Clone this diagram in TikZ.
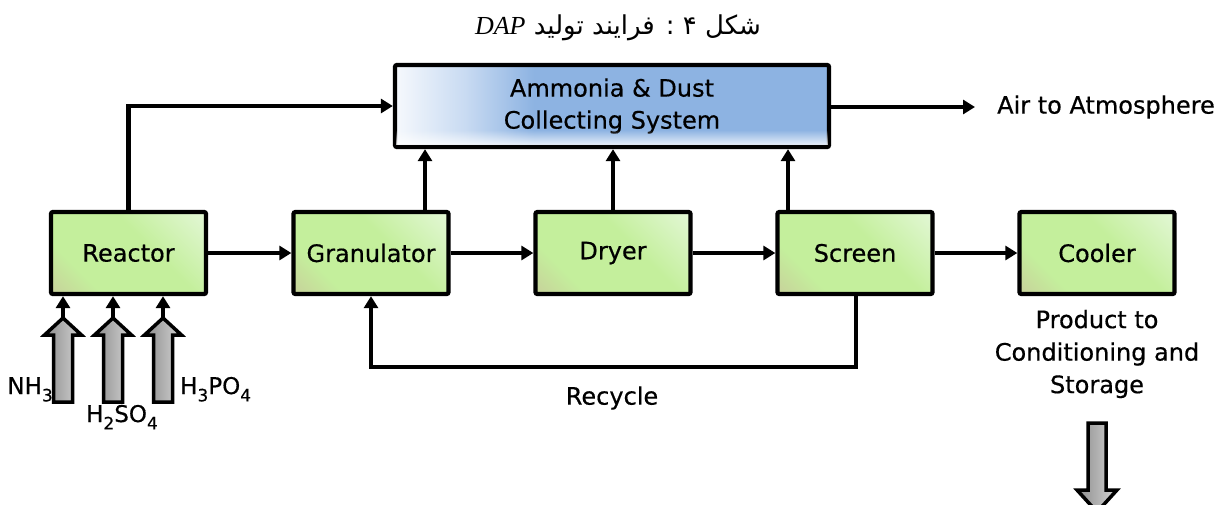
\documentclass[tikz,border=0pt]{standalone}
\usepackage{fontspec}
\setmainfont{DejaVu Sans}[BoldFont=DejaVu Sans, BoldFeatures={FakeBold=0.5}]
\newfontfamily\farsi[Script=Arabic]{DejaVu Sans}
\newfontfamily\dapfont{Liberation Serif}
\TeXXeTstate=1
\usetikzlibrary{arrows.meta,fadings}
\definecolor{gA}{HTML}{C8CC9A}
\definecolor{gM}{HTML}{C4EF9C}
\definecolor{gB}{HTML}{E6F8DC}
\definecolor{bW}{HTML}{F6F9FD}
\definecolor{bL}{HTML}{C9DBF2}
\definecolor{bB}{HTML}{8DB3E2}
\definecolor{arD}{HTML}{8C8C8C}
\definecolor{arL}{HTML}{D4D4D4}
\pgfdeclarehorizontalshading{gshade}{100bp}{color(0bp)=(gA); color(12bp)=(gA); color(30bp)=(gM); color(58bp)=(gM); color(88bp)=(gB); color(100bp)=(gB)}
\pgfdeclarehorizontalshading{bshade}{100bp}{color(0bp)=(bW); color(25bp)=(bW); color(33bp)=(bL); color(41bp)=(bB); color(100bp)=(bB)}
\newcommand\sbs[1]{\raisebox{-0.32em}{\fontsize{17}{17}\selectfont #1}}
\tikzset{
  unit/.style={draw=black, line width=4.3pt, rounded corners=2pt,
    minimum width=155pt, minimum height=82pt, inner sep=0pt,
    shading=gshade, shading angle=45,
    font=\fontsize{24}{28}\selectfont\bfseries},
  ammbox/.style={draw=black, line width=4.3pt, rounded corners=2pt,
    minimum width=434pt, minimum height=82pt, inner sep=0pt,
    shading=bshade, align=center,
    font=\fontsize{24}{32}\selectfont\bfseries},
  arr/.style={line width=4.2pt, -{Triangle[length=12pt,width=14pt]}},
  feed/.style={draw=black, line width=3.5pt, line join=miter,
    left color=arD, right color=arL},
  lbl/.style={inner sep=0pt, font=\fontsize{24}{32.5}\selectfont\bfseries, align=center},
  chem/.style={inner sep=0pt, font=\fontsize{23}{28}\selectfont\bfseries}
}
\begin{document}
\begin{tikzpicture}[x=1pt,y=-1pt]
\useasboundingbox (0,0) rectangle (1232,504);
\fill[white] (0,0) rectangle (1232,504);

% title
\node[inner sep=0pt] (title) at (618,28)
  {\farsi\fontsize{26}{30}\selectfont\beginR شکل ۴ : فرایند تولید \beginL{\dapfont\itshape DAP}\endL\endR};

% boxes
\node[ammbox] (amm) at (612,106) {Ammonia \& Dust\\Collecting System};
\fill[white, path fading=north, opacity=0.8] (396,130) rectangle (828,145);
\node[unit] (reac) at (128.5,253) {Reactor};
\node[unit] (gran) at (371,253) {Granulator};
\node[unit] (dry)  at (613,253) {Dryer};
\node[unit] (scr)  at (855,253) {Screen};
\node[unit] (cool) at (1097,253) {Cooler};

% main flow
\draw[arr] (reac.east) -- (gran.west);
\draw[arr] (gran.east) -- (dry.west);
\draw[arr] (dry.east) -- (scr.west);
\draw[arr] (scr.east) -- (cool.west);

% to collecting system
\draw[arr] (reac.north) |- (amm.west);
\draw[arr] ([xshift=54pt]gran.north) -- ([xshift=54pt]gran.north |- amm.south);
\draw[arr] (dry.north) -- (dry.north |- amm.south);
\draw[arr] ([xshift=-67pt]scr.north) -- ([xshift=-67pt]scr.north |- amm.south);

% air
\node[lbl, anchor=west] (air) at (997,107) {Air to Atmosphere};
\draw[arr] (amm.east |- air.west) -- ([xshift=-22pt]air.west);

% recycle
\coordinate (rc) at (856,367);
\draw[arr] ([xshift=1pt]scr.south) -- (rc) -| (gran.south);
\node[lbl] (recy) at (612,398) {Recycle};

% feed arrows
\foreach \cx/\nm in {63/fa,113/fb,163/fc}{
  \filldraw[feed] (\cx-9.5,402) -- (\cx-9.5,335) -- (\cx-18.5,335) -- (\cx,318)
     -- (\cx+18.5,335) -- (\cx+9.5,335) -- (\cx+9.5,402) -- cycle;
  \coordinate (\nm) at (\cx,318);
  \draw[arr] (\nm) -- (\nm |- reac.south);
}
\node[chem, anchor=base east] (nh3) at (53,394) {NH\sbs{3}};
\node[chem, anchor=base] (h2so4) at (122,422) {H\sbs{2}SO\sbs{4}};
\node[chem, anchor=base west] (h3po4) at (180,394) {H\sbs{3}PO\sbs{4}};

% product
\node[lbl] (prod) at (1097,354) {Product to\\Conditioning and\\Storage};
\begin{scope}
\clip (0,0) rectangle (1232,504);
\filldraw[feed] (1088,423) -- (1106,423) -- (1106,490) -- (1117,490) -- (1097,512)
   -- (1077,490) -- (1088,490) -- cycle;
\end{scope}
\end{tikzpicture}
\end{document}
